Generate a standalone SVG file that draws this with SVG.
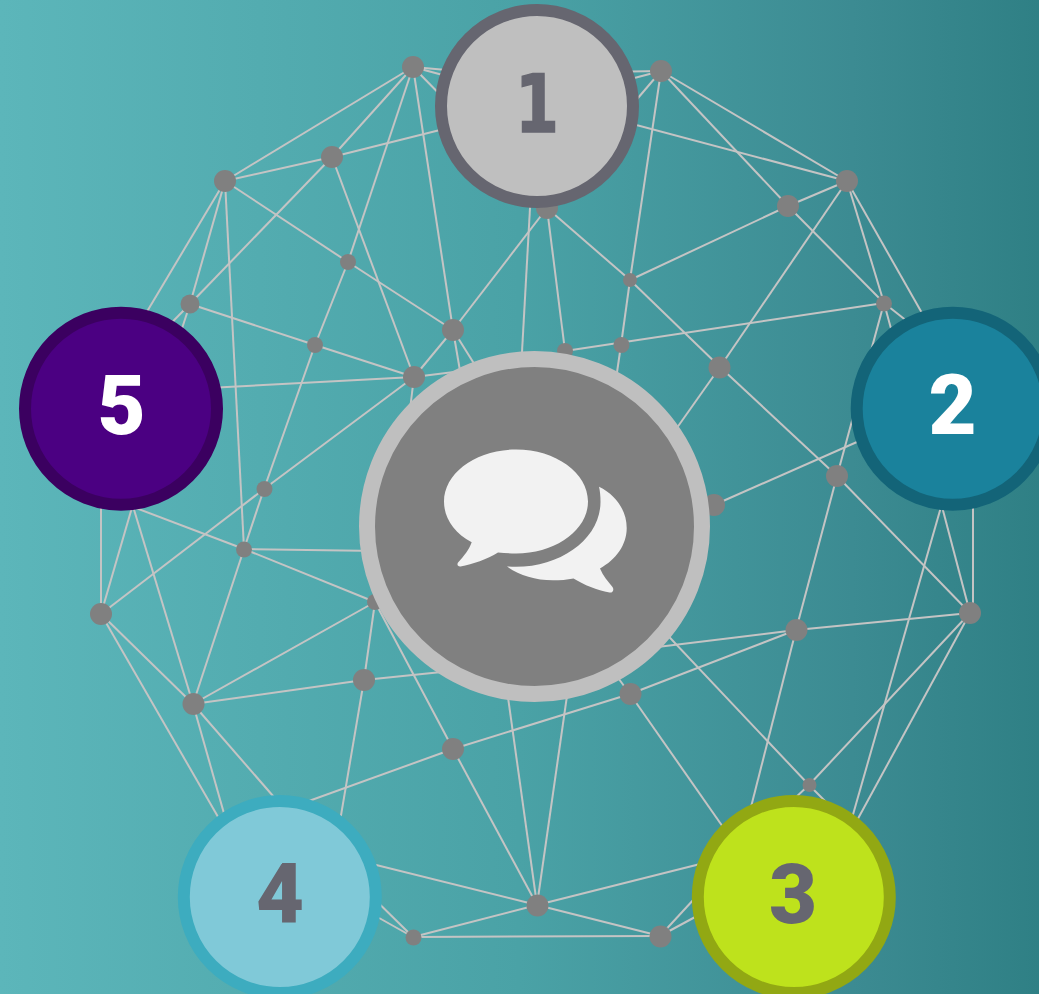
<svg xmlns="http://www.w3.org/2000/svg" width="1039" height="994" viewBox="0 0 1039 994">
<style>
#connectors line{stroke:#c4c4c4;stroke-width:2;fill:none}
.dot{fill:#808080}
.num{font-family:Roboto,"DejaVu Sans",sans-serif;font-weight:900;font-size:83px;text-anchor:middle}
.one{font-family:"DejaVu Sans",sans-serif;font-weight:700;font-size:80px;stroke:#666670;stroke-width:1.5}
.dark{fill:#666670}
.light{fill:#fff}
</style>
<defs><linearGradient id="bg" x1="0" y1="0" x2="1" y2="0"><stop offset="0" stop-color="#5cb6ba"/><stop offset="0.5" stop-color="#4aa2a6"/><stop offset="0.82" stop-color="#3c8b92"/><stop offset="1" stop-color="#2f8085"/></linearGradient></defs>
<rect width="1039" height="994" fill="url(#bg)"/>
<g id="connectors">
<line x1="413" y1="67" x2="480" y2="73"/><line x1="413" y1="67" x2="480" y2="85"/><line x1="413" y1="67" x2="460" y2="115"/>
<line x1="413" y1="67" x2="225" y2="181"/><line x1="413" y1="67" x2="332" y2="157"/><line x1="413" y1="67" x2="348" y2="262"/><line x1="413" y1="67" x2="453" y2="330"/>
<line x1="661" y1="71" x2="600" y2="72"/><line x1="661" y1="71" x2="600" y2="87"/><line x1="661" y1="71" x2="615" y2="125"/>
<line x1="661" y1="71" x2="630" y2="280"/><line x1="661" y1="71" x2="788" y2="206"/><line x1="661" y1="71" x2="847" y2="181"/>
<line x1="332" y1="157" x2="225" y2="181"/><line x1="332" y1="157" x2="480" y2="120"/><line x1="332" y1="157" x2="190" y2="304"/><line x1="332" y1="157" x2="414" y2="377"/>
<line x1="225" y1="181" x2="190" y2="304"/><line x1="225" y1="181" x2="244" y2="549"/><line x1="225" y1="181" x2="348" y2="262"/><line x1="225" y1="181" x2="130" y2="340"/>
<line x1="348" y1="262" x2="453" y2="330"/><line x1="348" y1="262" x2="315" y2="345"/>
<line x1="190" y1="304" x2="130" y2="365"/><line x1="190" y1="304" x2="170" y2="365"/><line x1="190" y1="304" x2="315" y2="345"/><line x1="315" y1="345" x2="414" y2="377"/><line x1="315" y1="345" x2="264" y2="489"/>
<line x1="414" y1="377" x2="453" y2="330"/><line x1="414" y1="377" x2="150" y2="391"/><line x1="414" y1="377" x2="264" y2="489"/><line x1="414" y1="377" x2="534" y2="362"/><line x1="414" y1="377" x2="405" y2="450"/>
<line x1="453" y1="330" x2="547" y2="208"/><line x1="453" y1="330" x2="465" y2="400"/><line x1="453" y1="330" x2="500" y2="405"/>
<line x1="264" y1="489" x2="244" y2="549"/><line x1="264" y1="489" x2="101" y2="614"/>
<line x1="244" y1="549" x2="120" y2="502"/><line x1="244" y1="549" x2="450" y2="552"/><line x1="244" y1="549" x2="375" y2="602"/><line x1="244" y1="549" x2="193" y2="704"/>
<line x1="375" y1="602" x2="193" y2="704"/><line x1="375" y1="602" x2="364" y2="680"/><line x1="375" y1="602" x2="453" y2="749"/>
<line x1="101" y1="614" x2="101" y2="480"/><line x1="101" y1="614" x2="140" y2="480"/><line x1="193" y1="704" x2="125" y2="480"/>
<line x1="101" y1="614" x2="193" y2="704"/><line x1="101" y1="614" x2="240" y2="855"/>
<line x1="193" y1="704" x2="364" y2="680"/><line x1="193" y1="704" x2="240" y2="870"/><line x1="193" y1="704" x2="320" y2="850"/>
<line x1="364" y1="680" x2="500" y2="666"/><line x1="364" y1="680" x2="330" y2="880"/>
<line x1="453" y1="749" x2="270" y2="815"/><line x1="453" y1="749" x2="630" y2="694"/><line x1="630" y1="694" x2="796" y2="630"/><line x1="453" y1="749" x2="537" y2="905"/>
<line x1="537" y1="905" x2="500" y2="640"/><line x1="537" y1="905" x2="575" y2="640"/>
<line x1="630" y1="694" x2="760" y2="880"/><line x1="630" y1="694" x2="590" y2="640"/>
<line x1="796" y1="630" x2="600" y2="654"/><line x1="796" y1="630" x2="970" y2="613"/><line x1="796" y1="630" x2="735" y2="870"/><line x1="796" y1="630" x2="837" y2="476"/>
<line x1="837" y1="476" x2="970" y2="613"/><line x1="837" y1="476" x2="720" y2="367"/><line x1="837" y1="476" x2="884" y2="303"/>
<line x1="720" y1="367" x2="630" y2="280"/><line x1="720" y1="367" x2="640" y2="480"/><line x1="720" y1="367" x2="847" y2="181"/>
<line x1="714" y1="505" x2="900" y2="423"/>
<line x1="630" y1="280" x2="788" y2="206"/><line x1="630" y1="280" x2="547" y2="208"/><line x1="630" y1="280" x2="621" y2="345"/>
<line x1="547" y1="208" x2="565" y2="351"/><line x1="531" y1="190" x2="521" y2="370"/>
<line x1="884" y1="303" x2="565" y2="351"/><line x1="621" y1="345" x2="610" y2="420"/><line x1="565" y1="351" x2="560" y2="420"/>
<line x1="580" y1="110" x2="847" y2="181"/><line x1="847" y1="181" x2="788" y2="206"/><line x1="847" y1="181" x2="884" y2="303"/><line x1="847" y1="181" x2="960" y2="380"/>
<line x1="788" y1="206" x2="884" y2="303"/><line x1="884" y1="303" x2="950" y2="355"/><line x1="884" y1="303" x2="905" y2="380"/>
<line x1="973" y1="480" x2="973" y2="613"/><line x1="935" y1="480" x2="970" y2="613"/><line x1="953" y1="465" x2="840" y2="860"/>
<line x1="970" y1="613" x2="830" y2="870"/><line x1="970" y1="613" x2="809" y2="785"/>
<line x1="809" y1="785" x2="640" y2="606"/><line x1="809" y1="785" x2="780" y2="812"/><line x1="809" y1="785" x2="840" y2="816"/>
<line x1="537" y1="905" x2="340" y2="856"/><line x1="537" y1="905" x2="413" y2="937"/><line x1="537" y1="905" x2="660" y2="936"/><line x1="537" y1="905" x2="740" y2="854"/>
<line x1="413" y1="937" x2="660" y2="936"/><line x1="413" y1="937" x2="350" y2="875"/><line x1="413" y1="937" x2="340" y2="896"/>
<line x1="660" y1="936" x2="730" y2="860"/><line x1="660" y1="936" x2="745" y2="890"/>
</g>
<g id="dots">
<circle class="dot" cx="413" cy="67" r="11"/><circle class="dot" cx="661" cy="71" r="11"/><circle class="dot" cx="332" cy="157" r="11"/><circle class="dot" cx="225" cy="181" r="11"/><circle class="dot" cx="847" cy="181" r="11"/><circle class="dot" cx="788" cy="206" r="11"/><circle class="dot" cx="547" cy="208" r="11"/><circle class="dot" cx="348" cy="262" r="8"/><circle class="dot" cx="630" cy="280" r="7"/><circle class="dot" cx="190" cy="304" r="9.5"/><circle class="dot" cx="884" cy="303.500" r="8"/><circle class="dot" cx="453" cy="330" r="11"/><circle class="dot" cx="315" cy="345" r="8"/><circle class="dot" cx="621.500" cy="345" r="8"/><circle class="dot" cx="565" cy="351" r="8"/><circle class="dot" cx="414" cy="377" r="11"/><circle class="dot" cx="719.500" cy="367.500" r="11"/><circle class="dot" cx="837" cy="476" r="11"/><circle class="dot" cx="264.500" cy="489" r="8"/><circle class="dot" cx="714" cy="505" r="11"/><circle class="dot" cx="244" cy="549.500" r="8"/><circle class="dot" cx="375" cy="602" r="8"/><circle class="dot" cx="101" cy="614" r="11"/><circle class="dot" cx="970" cy="613" r="11"/><circle class="dot" cx="796.500" cy="630" r="11"/><circle class="dot" cx="364" cy="680" r="11"/><circle class="dot" cx="193.500" cy="704" r="11"/><circle class="dot" cx="630.500" cy="694" r="11"/><circle class="dot" cx="453" cy="749" r="11"/><circle class="dot" cx="809.500" cy="785" r="7"/><circle class="dot" cx="537.500" cy="905.500" r="11"/><circle class="dot" cx="413.500" cy="937.500" r="8"/><circle class="dot" cx="660.500" cy="936.500" r="11"/>
</g>
<g id="center">
<circle cx="534.500" cy="526.500" r="167.500" fill="#808080" stroke="#bfbfbf" stroke-width="16"/>
<path fill="#f2f2f2" d="M516 449.500C555.800 449.500 588 473 588 501.500C588 530 555.800 553.500 516 553.500C510 553.500 504 553 498 552.500C487 559.500 473 564 460.500 566.500C457.500 566.800 456.500 564 458.500 562C464 556 469 550 471.700 542.300C454 533 444 518 444 501.500C444 473 476.200 449.500 516 449.500Z"/>
<path fill="#f2f2f2" d="M599 486.700C616 495 626.700 510.500 626.700 528C626.700 545 616 559.500 600 568.500C603 576 608 581.500 612.500 587C614.500 590 612.500 593 609.500 592.500C597 590 584 585 573.500 578.500C567 579.800 560 580.300 553 580.300C535 580.300 519 575 507 566.500C510 566.700 513 566.800 516 566.800C562 566.800 600.500 538 600.500 502C600.500 496 600 491 599 486.700Z"/>
</g>
<g id="hub1"><circle cx="537" cy="106" r="96" fill="#bfbfbf" stroke="#666670" stroke-width="12"/><text class="one dark" x="537" y="132" text-anchor="middle" textLength="44" lengthAdjust="spacingAndGlyphs">1</text></g>
<g id="hub2"><circle cx="952.700" cy="408.700" r="96" fill="#1a829c" stroke="#136478" stroke-width="12"/><text class="num light" x="952.500" y="434">2</text></g>
<g id="hub3"><circle cx="793.800" cy="897" r="96" fill="#bee21c" stroke="#92a813" stroke-width="12"/><text class="num dark" x="793" y="923">3</text></g>
<g id="hub4"><circle cx="279.800" cy="897" r="96" fill="#80c9d8" stroke="#3dacbf" stroke-width="12"/><text class="num dark" x="280" y="923">4</text></g>
<g id="hub5"><circle cx="121" cy="408.700" r="96" fill="#4b0082" stroke="#3b0060" stroke-width="12"/><text class="num light" x="121.500" y="434">5</text></g>
</svg>
